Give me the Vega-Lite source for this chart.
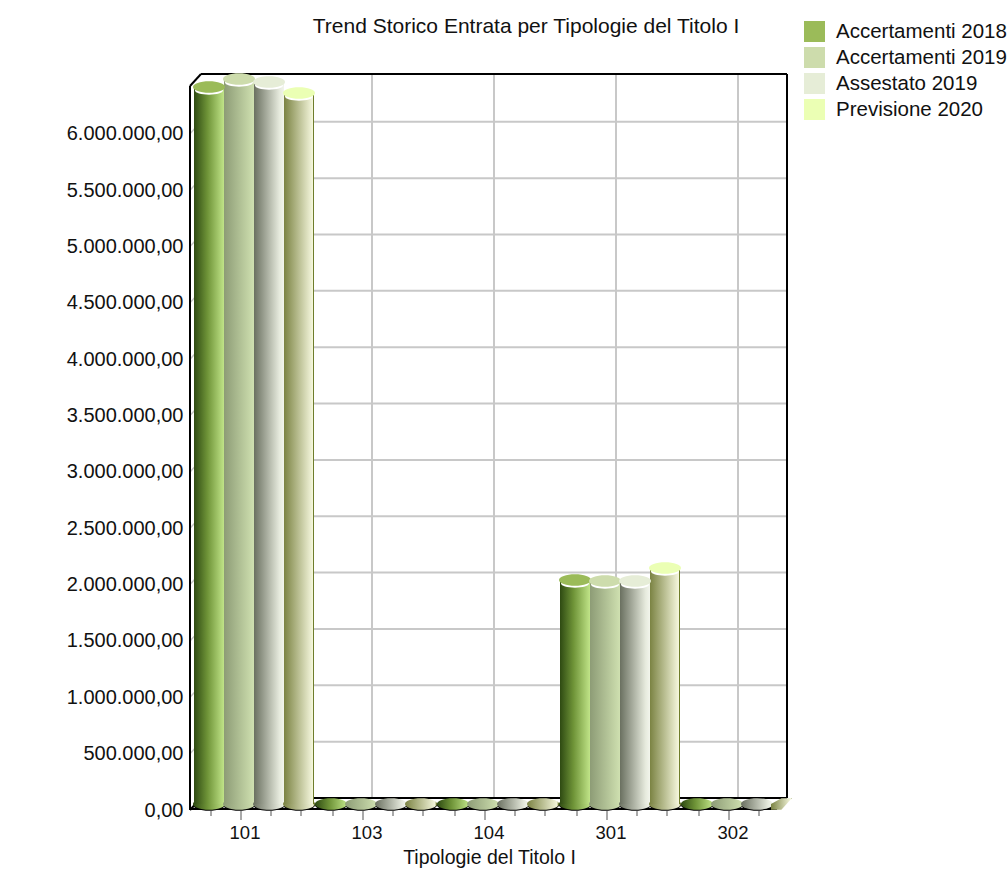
{
  "$schema": "https://vega.github.io/schema/vega-lite/v6.json",
  "width": 610,
  "height": 736,
  "autosize": "none",
  "padding": {"left": 184, "top": 74, "right": 214, "bottom": 65},
  "background": "white",
  "config": {
    "view": {"stroke": null},
    "font": "Liberation Sans",
    "locale": {"number": {"decimal": ",", "thousands": ".", "grouping": [3], "currency": ["", " €"]}}
  },
  "title": {
    "text": "Trend Storico Entrata per Tipologie del Titolo I",
    "anchor": "middle",
    "frame": "group",
    "dx": 37,
    "offset": -16,
    "fontSize": 21,
    "fontWeight": "normal",
    "color": "#111111"
  },
  "datasets": {
    "valori": [
      {"Tipologia": "101", "Serie": "Accertamenti 2018", "Valore": 6362000},
      {"Tipologia": "101", "Serie": "Accertamenti 2019", "Valore": 6433000},
      {"Tipologia": "101", "Serie": "Assestato 2019", "Valore": 6406000},
      {"Tipologia": "101", "Serie": "Previsione 2020", "Valore": 6309000},
      {"Tipologia": "103", "Serie": "Accertamenti 2018", "Valore": 12000},
      {"Tipologia": "103", "Serie": "Accertamenti 2019", "Valore": 11000},
      {"Tipologia": "103", "Serie": "Assestato 2019", "Valore": 11000},
      {"Tipologia": "103", "Serie": "Previsione 2020", "Valore": 9000},
      {"Tipologia": "104", "Serie": "Accertamenti 2018", "Valore": 10000},
      {"Tipologia": "104", "Serie": "Accertamenti 2019", "Valore": 11000},
      {"Tipologia": "104", "Serie": "Assestato 2019", "Valore": 10000},
      {"Tipologia": "104", "Serie": "Previsione 2020", "Valore": 10000},
      {"Tipologia": "301", "Serie": "Accertamenti 2018", "Valore": 1988000},
      {"Tipologia": "301", "Serie": "Accertamenti 2019", "Valore": 1979000},
      {"Tipologia": "301", "Serie": "Assestato 2019", "Valore": 1979000},
      {"Tipologia": "301", "Serie": "Previsione 2020", "Valore": 2094000},
      {"Tipologia": "302", "Serie": "Accertamenti 2018", "Valore": 9000},
      {"Tipologia": "302", "Serie": "Accertamenti 2019", "Valore": 9000},
      {"Tipologia": "302", "Serie": "Assestato 2019", "Valore": 8000},
      {"Tipologia": "302", "Serie": "Previsione 2020", "Valore": 8000}
    ],
    "tacche": [
      {"v": 0}, {"v": 500000}, {"v": 1000000}, {"v": 1500000}, {"v": 2000000}, {"v": 2500000}, {"v": 3000000},
      {"v": 3500000}, {"v": 4000000}, {"v": 4500000}, {"v": 5000000}, {"v": 5500000}, {"v": 6000000}
    ],
    "tipologie": [
      {"Tipologia": "101"}, {"Tipologia": "103"}, {"Tipologia": "104"}, {"Tipologia": "301"}, {"Tipologia": "302"}
    ]
  },
  "data": {"name": "valori"},
  "encoding": {
    "x": {
      "field": "Tipologia",
      "type": "nominal",
      "sort": ["101", "103", "104", "301", "302"],
      "scale": {"paddingInner": 0, "paddingOuter": 0},
      "axis": {
        "title": "Tipologie del Titolo I",
        "titleFontSize": 19.5,
        "titleFontWeight": "normal",
        "titleColor": "#111111",
        "titlePadding": 7,
        "labelFontSize": 18.5,
        "labelColor": "#111111",
        "labelAngle": 0,
        "labelPadding": 13,
        "domain": false,
        "ticks": false
      }
    }
  },
  "layer": [
    {
      "description": "griglia orizzontale sulla parete di fondo",
      "data": {"name": "tacche"},
      "mark": {"type": "rule", "color": "#c8c8c8", "strokeWidth": 2, "yOffset": -6, "xOffset": 17, "x2Offset": 54},
      "encoding": {
        "x": {"datum": "101", "bandPosition": 0},
        "x2": {"datum": "302"},
        "y": {
          "field": "v",
          "type": "quantitative",
          "scale": {"domain": [-53239, 6477400], "nice": false, "zero": false},
          "axis": {
            "title": null,
            "values": [0, 500000, 1000000, 1500000, 2000000, 2500000, 3000000, 3500000, 4000000, 4500000, 5000000, 5500000, 6000000],
            "format": ",.2f",
            "labelFontSize": 20,
            "labelColor": "#111111",
            "labelOffset": 6,
            "labelPadding": 1,
            "domain": false,
            "ticks": false,
            "grid": false
          }
        }
      }
    },
    {
      "description": "griglia verticale sulla parete di fondo",
      "data": {"name": "tipologie"},
      "mark": {"type": "rule", "color": "#c8c8c8", "strokeWidth": 2, "xOffset": 5, "yOffset": -6, "y2Offset": -6},
      "encoding": {
        "y": {"datum": 6424000, "type": "quantitative"},
        "y2": {"datum": 0}
      }
    },
    {
      "description": "tacche oblique sul lato sinistro",
      "data": {"name": "tacche"},
      "mark": {"type": "rule", "color": "#c8c8c8", "strokeWidth": 1.5, "xOffset": 6, "x2Offset": -44, "yOffset": 6, "y2Offset": -6},
      "encoding": {
        "x": {"datum": "101", "bandPosition": 0},
        "x2": {"datum": "101"},
        "y": {"field": "v", "type": "quantitative"},
        "y2": {"field": "v"}
      }
    },
    {
      "description": "tacche principali dell'asse delle tipologie",
      "data": {"name": "tipologie"},
      "mark": {"type": "rule", "color": "#8c8c8c", "strokeWidth": 1.5, "xOffset": -4, "yOffset": 7, "y2Offset": 16},
      "encoding": {
        "y": {"datum": 0, "type": "quantitative"},
        "y2": {"datum": 0}
      }
    },
    {
      "description": "tacche secondarie prima di ogni tipologia",
      "data": {"name": "tipologie"},
      "mark": {"type": "rule", "color": "#8c8c8c", "strokeWidth": 1.5, "xOffset": -34, "yOffset": 7, "y2Offset": 12},
      "encoding": {
        "y": {"datum": 0, "type": "quantitative"},
        "y2": {"datum": 0}
      }
    },
    {
      "description": "tacche secondarie dopo ogni tipologia",
      "data": {"name": "tipologie"},
      "mark": {"type": "rule", "color": "#8c8c8c", "strokeWidth": 1.5, "xOffset": 26, "yOffset": 7, "y2Offset": 12},
      "encoding": {
        "y": {"datum": 0, "type": "quantitative"},
        "y2": {"datum": 0}
      }
    },
    {
      "description": "ultima tacca secondaria di ogni tipologia, assente sul bordo destro",
      "data": {"name": "tipologie"},
      "transform": [{"filter": "datum.Tipologia != '302'"}],
      "mark": {"type": "rule", "color": "#8c8c8c", "strokeWidth": 1.5, "xOffset": 56, "yOffset": 7, "y2Offset": 12},
      "encoding": {
        "y": {"datum": 0, "type": "quantitative"},
        "y2": {"datum": 0}
      }
    },
    {
      "description": "cornice: spigoli obliqui",
      "data": {"values": [{"v": 0}, {"v": 6424000}]},
      "mark": {"type": "rule", "color": "#000000", "strokeWidth": 2, "xOffset": 6, "x2Offset": -44, "yOffset": 6, "y2Offset": -6},
      "encoding": {
        "x": {"datum": "101", "bandPosition": 0},
        "x2": {"datum": "101"},
        "y": {"field": "v", "type": "quantitative"},
        "y2": {"field": "v"}
      }
    },
    {
      "description": "cornice: montante anteriore sinistro",
      "mark": {"type": "rule", "color": "#000000", "strokeWidth": 2, "xOffset": 6, "yOffset": 6, "y2Offset": 6},
      "encoding": {
        "x": {"datum": "101", "bandPosition": 0},
        "y": {"datum": 6424000, "type": "quantitative"},
        "y2": {"datum": 0}
      }
    },
    {
      "description": "cornice: montante di fondo destro",
      "mark": {"type": "rule", "color": "#000000", "strokeWidth": 2, "xOffset": -7, "yOffset": -6, "y2Offset": -6},
      "encoding": {
        "x": {"datum": "302", "bandPosition": 1},
        "y": {"datum": 6424000, "type": "quantitative"},
        "y2": {"datum": 0}
      }
    },
    {
      "description": "cornice: lati orizzontali di fondo",
      "data": {"values": [{"v": 0}, {"v": 6424000}]},
      "mark": {"type": "rule", "color": "#000000", "strokeWidth": 2, "yOffset": -6, "xOffset": 17, "x2Offset": 54},
      "encoding": {
        "x": {"datum": "101", "bandPosition": 0},
        "x2": {"datum": "302"},
        "y": {"field": "v", "type": "quantitative"}
      }
    },
    {
      "description": "cornice: lato anteriore del pavimento",
      "data": {"values": [{"v": 0}]},
      "mark": {"type": "rule", "color": "#000000", "strokeWidth": 2, "yOffset": 5, "xOffset": 6, "x2Offset": 44},
      "encoding": {
        "x": {"datum": "101", "bandPosition": 0},
        "x2": {"datum": "302"},
        "y": {"field": "v", "type": "quantitative"}
      }
    },
    {
      "description": "profilo nero alla base dei cilindri",
      "transform": [{"filter": "!(datum.Tipologia == '302' && datum.Serie == 'Previsione 2020')"}],
      "mark": {
        "type": "point",
        "filled": true,
        "color": "#000000",
        "opacity": 1,
        "size": 1024,
        "shape": "M-1,0A1,0.36,0,1,1,1,0A1,0.36,0,1,1,-1,0Z",
        "yOffset": 1
      },
      "encoding": {
        "xOffset": {"field": "Serie", "type": "nominal", "scale": {"domain": ["Accertamenti 2018", "Accertamenti 2019", "Assestato 2019", "Previsione 2020"], "range": [10, 130]}},
        "y": {"datum": 0, "type": "quantitative"}
      }
    },
    {
      "description": "base e corpo, Accertamenti 2018",
      "transform": [{"filter": "datum.Serie == 'Accertamenti 2018'"}],
      "layer": [
        {
          "mark": {"type": "point", "filled": true, "opacity": 1, "size": 1024, "shape": "M-1,0A1,0.36,0,1,1,1,0A1,0.36,0,1,1,-1,0Z",
            "fill": {"gradient": "linear", "x1": 0, "x2": 1, "y1": 0, "y2": 0, "stops": [{"offset": 0, "color": "#2e4a12"}, {"offset": 0.45, "color": "#6f9438"}, {"offset": 1, "color": "#c0e488"}]}},
          "encoding": {
            "xOffset": {"field": "Serie", "type": "nominal"},
            "y": {"datum": 0, "type": "quantitative"}
          }
        },
        {
          "transform": [{"filter": "datum.Valore > 100000"}],
          "mark": {"type": "bar",
            "fill": {"gradient": "linear", "x1": 0, "x2": 1, "y1": 0, "y2": 0, "stops": [{"offset": 0, "color": "#2e4a12"}, {"offset": 0.45, "color": "#6f9438"}, {"offset": 1, "color": "#c0e488"}]}},
          "encoding": {
            "xOffset": {"field": "Serie", "type": "nominal"},
            "y": {"field": "Valore", "type": "quantitative"}
          }
        }
      ]
    },
    {
      "description": "base e corpo, Accertamenti 2019",
      "transform": [{"filter": "datum.Serie == 'Accertamenti 2019'"}],
      "layer": [
        {
          "mark": {"type": "point", "filled": true, "opacity": 1, "size": 1024, "shape": "M-1,0A1,0.36,0,1,1,1,0A1,0.36,0,1,1,-1,0Z",
            "fill": {"gradient": "linear", "x1": 0, "x2": 1, "y1": 0, "y2": 0, "stops": [{"offset": 0, "color": "#8d9c76"}, {"offset": 1, "color": "#cfe0b0"}]}},
          "encoding": {
            "xOffset": {"field": "Serie", "type": "nominal"},
            "y": {"datum": 0, "type": "quantitative"}
          }
        },
        {
          "transform": [{"filter": "datum.Valore > 100000"}],
          "mark": {"type": "bar",
            "fill": {"gradient": "linear", "x1": 0, "x2": 1, "y1": 0, "y2": 0, "stops": [{"offset": 0, "color": "#8d9c76"}, {"offset": 1, "color": "#cfe0b0"}]}},
          "encoding": {
            "xOffset": {"field": "Serie", "type": "nominal"},
            "y": {"field": "Valore", "type": "quantitative"}
          }
        }
      ]
    },
    {
      "description": "base e corpo, Assestato 2019",
      "transform": [{"filter": "datum.Serie == 'Assestato 2019'"}],
      "layer": [
        {
          "mark": {"type": "point", "filled": true, "opacity": 1, "size": 1024, "shape": "M-1,0A1,0.36,0,1,1,1,0A1,0.36,0,1,1,-1,0Z",
            "fill": {"gradient": "linear", "x1": 0, "x2": 1, "y1": 0, "y2": 0, "stops": [{"offset": 0, "color": "#6a7060"}, {"offset": 0.85, "color": "#e6eadd"}, {"offset": 1, "color": "#f2f5ec"}]}},
          "encoding": {
            "xOffset": {"field": "Serie", "type": "nominal"},
            "y": {"datum": 0, "type": "quantitative"}
          }
        },
        {
          "transform": [{"filter": "datum.Valore > 100000"}],
          "mark": {"type": "bar",
            "fill": {"gradient": "linear", "x1": 0, "x2": 1, "y1": 0, "y2": 0, "stops": [{"offset": 0, "color": "#6a7060"}, {"offset": 0.85, "color": "#e6eadd"}, {"offset": 1, "color": "#f2f5ec"}]}},
          "encoding": {
            "xOffset": {"field": "Serie", "type": "nominal"},
            "y": {"field": "Valore", "type": "quantitative"}
          }
        }
      ]
    },
    {
      "description": "base e corpo, Previsione 2020; il 302 e tagliato dal bordo destro",
      "transform": [{"filter": "datum.Serie == 'Previsione 2020'"}],
      "layer": [
        {
          "mark": {"type": "point", "filled": true, "opacity": 1, "size": 1024,
            "fill": {"gradient": "linear", "x1": 0, "x2": 1, "y1": 0, "y2": 0, "stops": [{"offset": 0, "color": "#7b8343"}, {"offset": 0.95, "color": "#f4f6dc"}, {"offset": 0.96, "color": "#6f7d2c"}, {"offset": 1, "color": "#6f7d2c"}]}},
          "encoding": {
            "shape": {
              "condition": {"test": "datum.Tipologia == '302'", "value": "M-1,0.36L-0.35,0.36L0.3,-0.36L-0.35,-0.36L-1,0Z"},
              "value": "M-1,0A1,0.36,0,1,1,1,0A1,0.36,0,1,1,-1,0Z"
            },
            "xOffset": {"field": "Serie", "type": "nominal"},
            "y": {"datum": 0, "type": "quantitative"}
          }
        },
        {
          "transform": [{"filter": "datum.Valore > 100000"}],
          "mark": {"type": "bar",
            "fill": {"gradient": "linear", "x1": 0, "x2": 1, "y1": 0, "y2": 0, "stops": [{"offset": 0, "color": "#7b8343"}, {"offset": 0.95, "color": "#f4f6dc"}, {"offset": 0.96, "color": "#6f7d2c"}, {"offset": 1, "color": "#6f7d2c"}]}},
          "encoding": {
            "xOffset": {"field": "Serie", "type": "nominal"},
            "y": {"field": "Valore", "type": "quantitative"}
          }
        }
      ]
    },
    {
      "description": "riflesso bianco sotto i coperchi",
      "transform": [{"filter": "datum.Valore > 100000"}],
      "mark": {"type": "point", "filled": true, "color": "#ffffff", "opacity": 1, "size": 784, "shape": "M-1,0A1,0.3,0,1,1,1,0A1,0.3,0,1,1,-1,0Z", "yOffset": 3.5},
      "encoding": {
        "xOffset": {"field": "Serie", "type": "nominal"},
        "y": {"field": "Valore", "type": "quantitative"}
      }
    },
    {
      "description": "coperchi dei cilindri, da cui deriva la legenda",
      "transform": [{"filter": "datum.Valore > 100000"}],
      "mark": {"type": "point", "filled": true, "opacity": 1, "size": 1024, "shape": "M-1,0A1,0.36,0,1,1,1,0A1,0.36,0,1,1,-1,0Z"},
      "encoding": {
        "xOffset": {"field": "Serie", "type": "nominal"},
        "y": {"field": "Valore", "type": "quantitative"},
        "color": {
          "field": "Serie",
          "type": "nominal",
          "scale": {
            "domain": ["Accertamenti 2018", "Accertamenti 2019", "Assestato 2019", "Previsione 2020"],
            "range": ["#9bbb59", "#cddcac", "#e6edd7", "#ebffb4"]
          },
          "legend": {
            "title": null,
            "orient": "none",
            "legendX": 620,
            "legendY": -53,
            "symbolType": "square",
            "symbolSize": 441,
            "symbolStrokeWidth": 0,
            "rowPadding": 5,
            "labelFontSize": 20.5,
            "labelColor": "#111111",
            "labelOffset": 11,
            "labelLimit": 300,
            "clipHeight": 21
          }
        }
      }
    }
  ]
}
